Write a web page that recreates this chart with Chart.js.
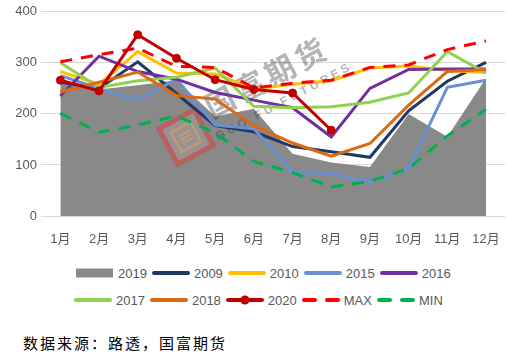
<!DOCTYPE html>
<html>
<head>
<meta charset="utf-8">
<script src="https://cdn.jsdelivr.net/npm/chart.js@4.4.1/dist/chart.umd.min.js"></script>
<style>
  html, body { margin:0; padding:0; background:#fff; width:516px; height:356px; overflow:hidden; }
  #wrap { position:absolute; left:0; top:0; width:516px; height:252px; }
  .row { position:absolute; height:16px; display:flex; align-items:center; white-space:nowrap;
         font-family:"Liberation Sans", Arial, sans-serif; font-size:13px; color:#595959; }
  .item { display:inline-flex; align-items:center; margin-right:5px; }
  .item svg { margin-right:4px; display:block; }
  #note { position:absolute; left:23px; top:333px; font-family:"Noto Sans CJK SC", sans-serif;
          font-size:15px; letter-spacing:2px; color:#000; line-height:20px; white-space:nowrap; }
</style>
</head>
<body>
<div id="wrap"><canvas id="c"></canvas></div>
<div class="row" id="row1" style="left:76px; top:265px;"></div>
<div class="row" id="row2" style="left:74px; top:292px;"></div>
<div id="note">数据来源：路透，国富期货</div>
<script>
const months = ['1月','2月','3月','4月','5月','6月','7月','8月','9月','10月','11月','12月'];
const yTicks = [0, 100, 200, 300, 400];

const s2019 = [260, 248, 256, 266, 195, 210, 122, 105, 96, 200, 155, 270];
const s2009 = [262, 250, 302, 240, 177, 165, 136, 126, 115, 206, 264, 301];
const s2010 = [283, 258, 322, 280, 278, 249, 258, 265, 290, 294, 285, 281];
const s2015 = [275, 250, 227, 268, 178, 171, 86, 83, 67, 93, 252, 266];
const s2016 = [235, 313, 283, 268, 242, 227, 212, 155, 250, 287, 288, 288];
const s2017 = [300, 252, 265, 272, 290, 215, 212, 214, 223, 241, 322, 280];
const s2018 = [243, 262, 282, 236, 229, 177, 143, 117, 142, 217, 283, 287];
const s2020 = [266, 245, 355, 309, 267, 248, 241, 168, null, null, null, null];
const sMax  = [302, 316, 329, 293, 291, 251, 260, 266, 291, 296, 326, 343];
const sMin  = [201, 164, 178, 196, 163, 107, 85, 57, 68, 93, 157, 209];

const C = {
  g2019:'#898989', c2009:'#203864', c2010:'#FFC000', c2015:'#6A8FD2', c2016:'#7030A0',
  c2017:'#92D050', c2018:'#DB6A12', c2020:'#C00000', max:'#FF0000', min:'#00B050'
};

function lineDs(label, data, color, order, extra) {
  return Object.assign({
    label, data, borderColor: color, backgroundColor: color, borderWidth: 3,
    pointRadius: 0, fill: false, tension: 0, order, spanGaps: false
  }, extra || {});
}

const datasets = [
  { label:'2019', data:s2019, fill:'origin', backgroundColor:C.g2019, borderColor:'rgba(0,0,0,0)',
    borderWidth:0, pointRadius:0, tension:0, order:20 },
  lineDs('2009', s2009, C.c2009, 9),
  lineDs('2010', s2010, C.c2010, 8),
  lineDs('2015', s2015, C.c2015, 7),
  lineDs('2016', s2016, C.c2016, 6),
  lineDs('2017', s2017, C.c2017, 5),
  lineDs('2018', s2018, C.c2018, 4),
  lineDs('2020', s2020, C.c2020, 0, { pointRadius:4, pointBorderWidth:1, pointBackgroundColor:C.c2020, pointBorderColor:C.c2020 }),
  lineDs('MAX', sMax, C.max, 1, { borderDash:[12, 9] }),
  lineDs('MIN', sMin, C.min, 2, { borderDash:[12, 9] })
];

const watermark = {
  id: 'watermark',
  afterDatasetDraw(chart, args) {
    if (args.index !== 0) return;
    const ctx = chart.ctx;
    const ang = -28 * Math.PI / 180;
    ctx.save();
    // logo
    ctx.translate(186, 137);
    ctx.rotate(ang);
    ctx.fillStyle = 'rgba(255,200,200,0.15)';
    ctx.fillRect(-22, -22, 44, 44);
    ctx.strokeStyle = 'rgba(215,45,45,0.5)';
    ctx.lineWidth = 5;
    ctx.strokeRect(-20, -20, 40, 40);
    ctx.strokeStyle = 'rgba(235,170,70,0.45)';
    ctx.lineWidth = 2;
    ctx.strokeRect(-11, -11, 22, 22);
    ctx.beginPath();
    ctx.moveTo(-6, -4); ctx.lineTo(6, -4);
    ctx.moveTo(-6, 0); ctx.lineTo(6, 0);
    ctx.moveTo(-6, 4); ctx.lineTo(6, 4);
    ctx.stroke();
    ctx.restore();

    ctx.save();
    ctx.translate(265, 78);
    ctx.rotate(ang);
    ctx.fillStyle = 'rgba(46,46,46,0.36)';
    ctx.textAlign = 'center';
    ctx.textBaseline = 'middle';
    ctx.font = 'bold 30px "Noto Sans CJK SC", sans-serif';
    const chars = ['国','富','期','货'];
    chars.forEach((ch, i) => ctx.fillText(ch, (i - 1.5) * 34, 0));
    ctx.font = 'bold 12px "Liberation Sans", Arial, sans-serif';
    ctx.fillText('G U O   F U   F U T U R E S', 4, 30);
    ctx.restore();
  }
};

const tickFont = { family:'"Liberation Sans", Arial, "Noto Sans CJK SC", sans-serif', size:13 };

new Chart(document.getElementById('c'), {
  type: 'line',
  data: { labels: months, datasets },
  options: {
    responsive: true,
    maintainAspectRatio: false,
    animation: false,
    layout: { padding: { left:0, right:6, top:10, bottom:0 } },
    plugins: { legend: { display:false }, tooltip: { enabled:false } },
    scales: {
      x: {
        offset: true,
        grid: { display:false, drawTicks:false },
        border: { display:false },
        ticks: { padding:16, color:'#595959', font:tickFont, maxRotation:0, autoSkip:false },
        afterFit(s) { s.height = 36; }
      },
      y: {
        min: 0, max: 400,
        afterBuildTicks(s) { s.ticks = yTicks.map(v => ({ value: v })); },
        ticks: { padding:4, color:'#595959', font:tickFont },
        grid: { color:'#D9D9D9', drawTicks:false, lineWidth:1 },
        border: { display:false },
        afterFit(s) { s.width = 41; }
      }
    }
  },
  plugins: [watermark]
});

// HTML legend
function svgIcon(kind, color) {
  const w = 38, h = 12, cy = 6;
  let inner = '';
  if (kind === 'rect') {
    inner = `<rect x="0" y="1.5" width="37" height="9" fill="${color}"/>`;
  } else if (kind === 'line') {
    inner = `<line x1="2" y1="${cy}" x2="36" y2="${cy}" stroke="${color}" stroke-width="4" stroke-linecap="round"/>`;
  } else if (kind === 'marker') {
    inner = `<line x1="2" y1="${cy}" x2="36" y2="${cy}" stroke="${color}" stroke-width="4" stroke-linecap="round"/>` +
            `<circle cx="19" cy="${cy}" r="4.5" fill="${color}"/>`;
  } else if (kind === 'dash') {
    inner = `<line x1="2" y1="${cy}" x2="13" y2="${cy}" stroke="${color}" stroke-width="4" stroke-linecap="round"/>` +
            `<line x1="25" y1="${cy}" x2="36" y2="${cy}" stroke="${color}" stroke-width="4" stroke-linecap="round"/>`;
  }
  return `<svg width="${w}" height="${h}" viewBox="0 0 ${w} ${h}">${inner}</svg>`;
}
const legendRow1 = [['2019','rect',C.g2019],['2009','line',C.c2009],['2010','line',C.c2010],['2015','line',C.c2015],['2016','line',C.c2016]];
const legendRow2 = [['2017','line',C.c2017],['2018','line',C.c2018],['2020','marker',C.c2020],['MAX','dash',C.max],['MIN','dash',C.min]];
function fillRow(el, items) {
  el.innerHTML = items.map(([t,k,c]) => `<span class="item">${svgIcon(k,c)}<span>${t}</span></span>`).join('');
}
fillRow(document.getElementById('row1'), legendRow1);
fillRow(document.getElementById('row2'), legendRow2);
</script>
</body>
</html>
